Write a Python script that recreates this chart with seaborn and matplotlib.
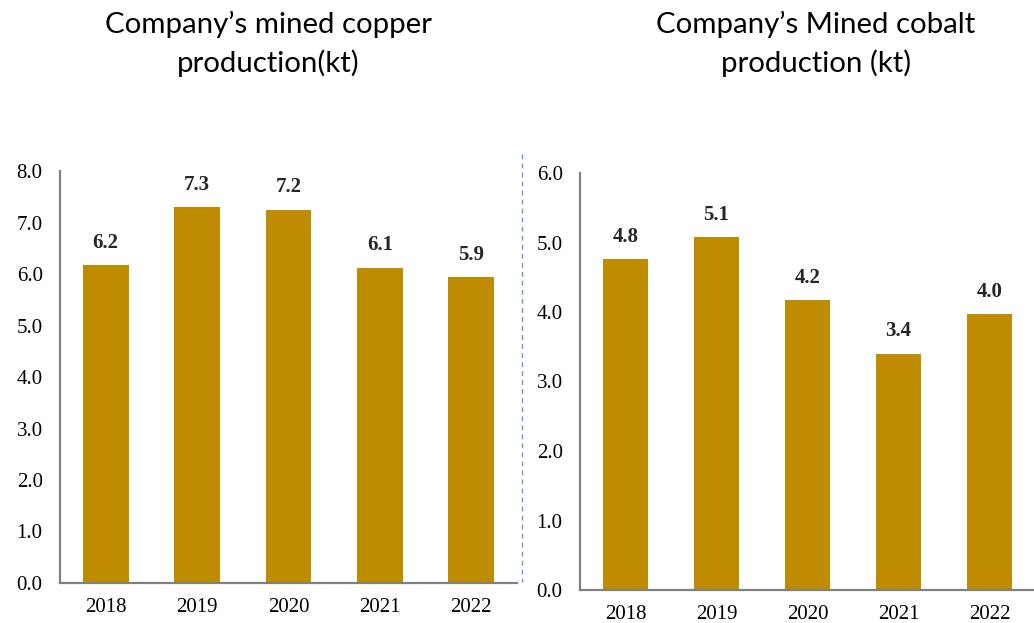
import matplotlib
matplotlib.use("Agg")
import matplotlib.pyplot as plt
import seaborn as sns
import pandas as pd
from matplotlib.lines import Line2D

years = ["2018", "2019", "2020", "2021", "2022"]
copper = [6.17, 7.30, 7.25, 6.12, 5.94]
copper_labels = ["6.2", "7.3", "7.2", "6.1", "5.9"]
cobalt = [4.76, 5.08, 4.17, 3.40, 3.97]
cobalt_labels = ["4.8", "5.1", "4.2", "3.4", "4.0"]
copper_ticks = [0, 1, 2, 3, 4, 5, 6, 7, 8]
cobalt_ticks = [0, 1, 2, 3, 4, 5, 6]
title_left = ["Company\u2019s mined copper", "production(kt)"]
title_right = ["Company\u2019s Mined cobalt", "production (kt)"]

sns.set_style("white")
plt.rcParams["font.family"] = ["Liberation Serif", "DejaVu Serif"]

W, H = 1034, 623
fig = plt.figure(figsize=(W / 100, H / 100), dpi=100)

BAR = "#BF8C00"
SPINE = "#808080"


def px_axes(x0, x1, ytop, ybot):
    return fig.add_axes([x0 / W, 1 - ybot / H, (x1 - x0) / W, (ybot - ytop) / H])


def draw(ax, vals, labels, ticks):
    df = pd.DataFrame({"year": years, "val": vals})
    sns.barplot(data=df, x="year", y="val", color=BAR, width=0.5, ax=ax,
                saturation=1, edgecolor="none")
    ax.set_xlim(-0.5, len(years) - 0.5)
    ax.set_ylim(ticks[0], ticks[-1])
    ax.set_yticks(ticks)
    ax.set_yticklabels([f"{t:.1f}" for t in ticks])
    ax.set_xlabel("")
    ax.set_ylabel("")
    ax.tick_params(axis="both", length=0, labelsize=15, colors="black")
    ax.tick_params(axis="y", pad=12.5)
    ax.tick_params(axis="x", pad=11)
    for lbl in ax.get_xticklabels() + ax.get_yticklabels():
        lbl.set_fontfamily(["Liberation Serif", "DejaVu Serif"])
    for s in ["top", "right"]:
        ax.spines[s].set_visible(False)
    for s in ["left", "bottom"]:
        ax.spines[s].set_color(SPINE)
        ax.spines[s].set_linewidth(1.6)
    for p, lab in zip(ax.patches, labels):
        ax.annotate(lab, (p.get_x() + p.get_width() / 2, p.get_height()),
                    xytext=(0, 12.5), textcoords="offset points",
                    ha="center", va="baseline", fontsize=15, fontweight="bold",
                    family=["Liberation Serif", "DejaVu Serif"])


ax1 = px_axes(60, 517, 171, 583)
draw(ax1, copper, copper_labels, copper_ticks)
ax2 = px_axes(580, 1035, 173, 590)
draw(ax2, cobalt, cobalt_labels, cobalt_ticks)

# titles
tfont = dict(family=["Lato", "DejaVu Sans"], fontsize=21.2, color="black",
             ha="center", va="baseline")
fig.text(268 / W, 1 - 33 / H, title_left[0], **tfont)
fig.text(268 / W, 1 - 72 / H, title_left[1], **tfont)
fig.text(816 / W, 1 - 33 / H, title_right[0], **tfont)
fig.text(816 / W, 1 - 72 / H, title_right[1], **tfont)

# dashed separator
fig.add_artist(Line2D([522 / W, 522 / W], [1 - 154 / H, 1 - 582 / H],
                      transform=fig.transFigure, color="#6E95D4",
                      linestyle=(0, (3.5, 3)), linewidth=1.0))

fig.savefig("out.png", dpi=100, facecolor="white")
